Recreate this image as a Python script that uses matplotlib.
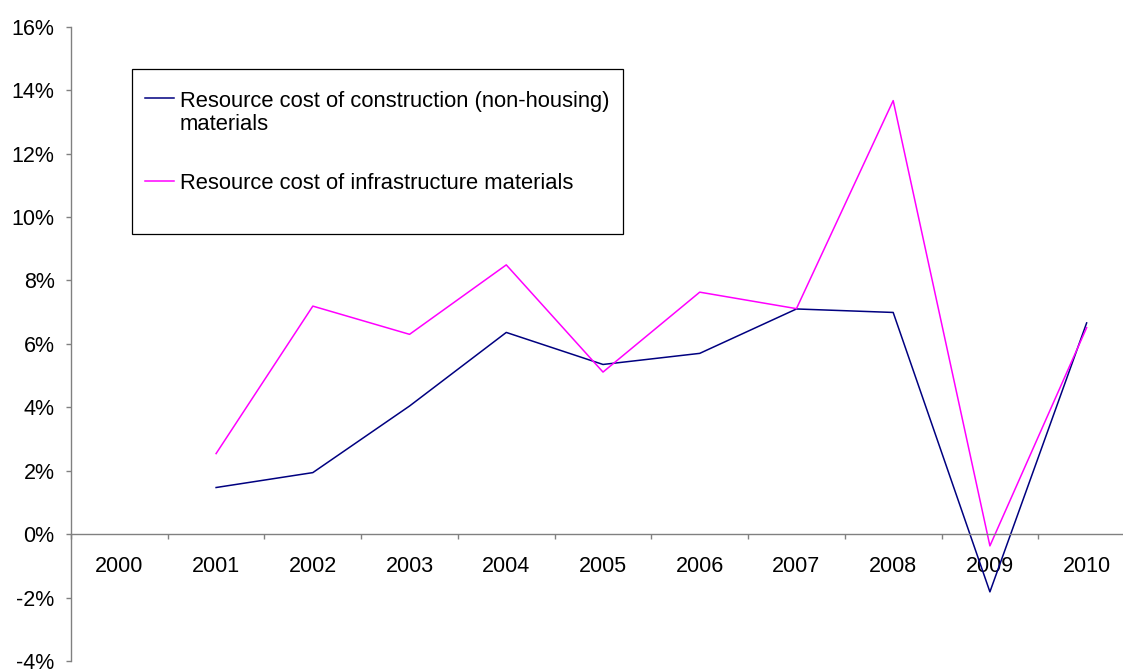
import matplotlib
matplotlib.use("Agg")
import matplotlib.pyplot as plt
import numpy as np
from matplotlib.lines import Line2D
from matplotlib.patches import Rectangle
from matplotlib.ticker import FixedLocator, FuncFormatter

years = ["2000", "2001", "2002", "2003", "2004", "2005",
         "2006", "2007", "2008", "2009", "2010"]
# annual change, percent (no value for 2000)
construction = [np.nan, 1.47, 1.94, 4.04, 6.36, 5.35, 5.70, 7.10, 6.99, -1.82, 6.66]
infrastructure = [np.nan, 2.54, 7.19, 6.30, 8.49, 5.11, 7.63, 7.11, 13.67, -0.37, 6.51]
series_labels = [
    "Resource cost of construction (non-housing)\nmaterials",
    "Resource cost of infrastructure materials",
]
y_ticks = [-4, -2, 0, 2, 4, 6, 8, 10, 12, 14, 16]

W, H = 1123, 669
TICK_FONT = 15.5
LEGEND_FONT = 15.8
AXIS_GREY = "#808080"

plt.rcParams["font.family"] = ["Liberation Sans", "DejaVu Sans"]


def px(x, y):
    """Pixel position (from top-left) to figure fraction."""
    return x / W, 1 - y / H


fig = plt.figure(figsize=(W / 100, H / 100), dpi=100)
# plot area runs slightly past the right edge of the canvas
ax = fig.add_axes([71 / W, 8 / H, 1064 / W, 634.3 / H])

x = np.arange(len(years))
line_c, = ax.plot(x, construction, color="#000080", lw=1.1)
line_i, = ax.plot(x, infrastructure, color="#FF00FF", lw=1.1)

ax.set_xlim(-0.5, len(years) - 0.5)
ax.set_ylim(y_ticks[0], y_ticks[-1])

for side in ("top", "right"):
    ax.spines[side].set_visible(False)
ax.spines["bottom"].set_position(("data", 0))
for side in ("left", "bottom"):
    ax.spines[side].set_color(AXIS_GREY)
    ax.spines[side].set_linewidth(1.0)

ax.yaxis.set_major_locator(FixedLocator(y_ticks))
ax.yaxis.set_major_formatter(FuncFormatter(lambda v, _: f"{v:.0f}%"))
ax.tick_params(axis="y", direction="out", length=3.8, width=1.0,
               color=AXIS_GREY, pad=8, labelsize=TICK_FONT)

# year labels sit at category centres, tick marks at category boundaries
ax.set_xticks(x)
ax.set_xticklabels(years)
ax.set_xticks(np.arange(len(years) + 1) - 0.5, minor=True)
ax.tick_params(axis="x", which="major", length=0, pad=16, labelsize=TICK_FONT)
ax.tick_params(axis="x", which="minor", direction="out", length=3.8,
               width=1.0, color=AXIS_GREY)

# legend box
x0, y0 = px(132, 234)
x1, y1 = px(623, 69)
fig.add_artist(Rectangle((x0, y0), x1 - x0, y1 - y0, transform=fig.transFigure,
                         facecolor="white", edgecolor="black", lw=0.9))

entries = [(line_c, series_labels[0], 98.3, 107), (line_i, series_labels[1], 181, 189)]
for handle, label, hy, base in entries:
    hx0, hyf = px(145, hy)
    hx1, _ = px(173.5, hy)
    fig.add_artist(Line2D([hx0, hx1], [hyf, hyf], transform=fig.transFigure,
                          color=handle.get_color(), lw=1.1))
    for k, text in enumerate(label.split("\n")):
        tx, ty = px(179.5, base + 23 * k)
        fig.text(tx, ty, text, fontsize=LEGEND_FONT, va="baseline", ha="left")

fig.savefig("out.png", dpi=100)
